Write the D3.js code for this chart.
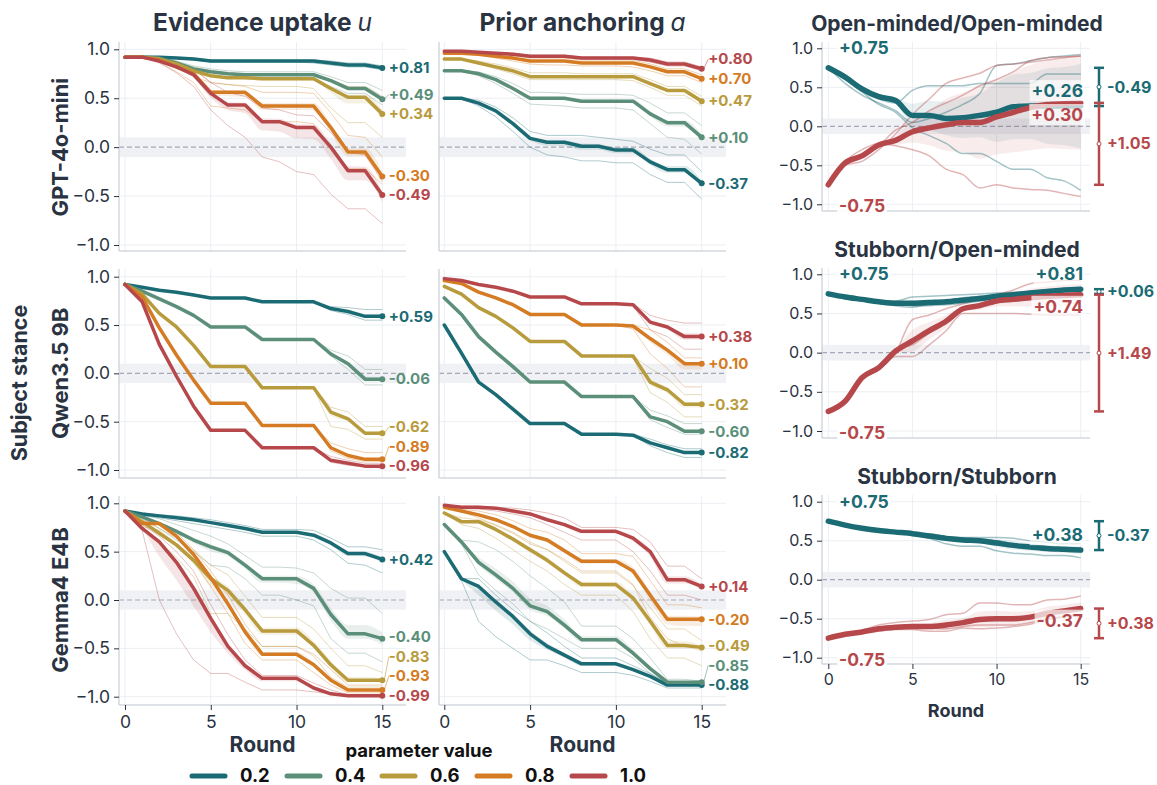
<!DOCTYPE html>
<html>
<head>
<meta charset="utf-8">
<script src="https://cdn.jsdelivr.net/npm/d3@7"></script>
<style>
  body { margin: 0; background: #fff; }
  text { font-family: Inter, "Noto Sans", sans-serif; }
</style>
</head>
<body>
<svg id="chart" width="1157" height="785"></svg>
<script>
// ---- data ----
const rounds = [0,1,2,3,4,5,6,7,8,9,10,11,12,13,14,15];
const paramValues = ["0.2", "0.4", "0.6", "0.8", "1.0"];
const yTicks = [1.0, 0.5, 0.0, -0.5, -1.0];
const xTicks = [0, 5, 10, 15];
const modelNames = ["GPT-4o-mini", "Qwen3.5 9B", "Gemma4 E4B"];
const pairTitles = ["Open-minded/Open-minded", "Stubborn/Open-minded", "Stubborn/Stubborn"];

// each panel: one row per parameter value (0.2 ... 1.0), 16 rounds
const gptUptakeMean = [
  [0.92,0.92,0.92,0.91,0.90,0.88,0.88,0.88,0.88,0.88,0.88,0.88,0.86,0.84,0.84,0.81],
  [0.92,0.92,0.91,0.86,0.80,0.77,0.75,0.74,0.74,0.74,0.74,0.74,0.68,0.60,0.60,0.49],
  [0.92,0.92,0.90,0.85,0.78,0.73,0.71,0.71,0.70,0.70,0.70,0.70,0.60,0.51,0.51,0.34],
  [0.92,0.92,0.89,0.82,0.75,0.56,0.56,0.56,0.42,0.42,0.42,0.42,0.20,-0.05,-0.05,-0.30],
  [0.92,0.92,0.88,0.82,0.74,0.55,0.43,0.43,0.26,0.26,0.20,0.20,0.00,-0.24,-0.24,-0.49]
];
const gptUptakeLo = [
  [0.92,0.92,0.92,0.91,0.89,0.87,0.87,0.87,0.87,0.87,0.87,0.86,0.84,0.82,0.82,0.79],
  [0.92,0.92,0.90,0.84,0.77,0.73,0.71,0.70,0.70,0.70,0.70,0.69,0.62,0.55,0.55,0.43],
  [0.92,0.92,0.89,0.82,0.72,0.66,0.64,0.63,0.62,0.62,0.62,0.60,0.40,0.25,0.25,0.10],
  [0.92,0.92,0.87,0.77,0.66,0.42,0.40,0.38,0.26,0.26,0.26,0.24,0.00,-0.22,-0.22,-0.38],
  [0.92,0.92,0.86,0.76,0.62,0.38,0.22,0.10,-0.10,-0.15,-0.25,-0.28,-0.48,-0.63,-0.63,-0.78]
];
const gptUptakeHi = [
  [0.92,0.92,0.92,0.92,0.91,0.89,0.89,0.89,0.89,0.89,0.89,0.89,0.88,0.86,0.86,0.83],
  [0.92,0.92,0.92,0.88,0.83,0.80,0.78,0.77,0.77,0.77,0.77,0.77,0.72,0.66,0.66,0.58],
  [0.92,0.92,0.91,0.87,0.82,0.78,0.76,0.75,0.75,0.75,0.75,0.74,0.68,0.62,0.62,0.52],
  [0.92,0.92,0.90,0.85,0.80,0.66,0.64,0.62,0.56,0.56,0.56,0.55,0.35,0.12,0.10,-0.10],
  [0.92,0.92,0.89,0.85,0.80,0.66,0.56,0.52,0.40,0.38,0.33,0.32,0.15,-0.05,-0.08,-0.35]
];

const gptAnchorMean = [
  [0.50,0.50,0.45,0.37,0.24,0.09,0.05,0.05,0.01,0.01,-0.03,-0.03,-0.15,-0.23,-0.23,-0.37],
  [0.78,0.78,0.75,0.69,0.60,0.50,0.50,0.50,0.47,0.47,0.47,0.47,0.34,0.25,0.25,0.10],
  [0.90,0.90,0.86,0.82,0.78,0.72,0.72,0.72,0.72,0.72,0.72,0.72,0.65,0.58,0.58,0.47],
  [0.96,0.96,0.95,0.93,0.91,0.88,0.88,0.88,0.86,0.86,0.86,0.86,0.82,0.77,0.77,0.70],
  [0.98,0.98,0.97,0.96,0.95,0.93,0.93,0.93,0.91,0.91,0.91,0.91,0.89,0.85,0.85,0.80]
];
const gptAnchorLo = [
  [0.50,0.50,0.42,0.31,0.16,0.00,-0.08,-0.10,-0.14,-0.14,-0.16,-0.16,-0.28,-0.36,-0.36,-0.53],
  [0.78,0.78,0.73,0.65,0.55,0.44,0.43,0.42,0.40,0.40,0.40,0.38,0.24,0.10,0.08,-0.07],
  [0.90,0.90,0.85,0.80,0.75,0.69,0.69,0.69,0.69,0.69,0.69,0.68,0.61,0.53,0.53,0.42],
  [0.96,0.96,0.94,0.91,0.88,0.85,0.84,0.84,0.83,0.83,0.83,0.82,0.78,0.73,0.73,0.66],
  [0.98,0.98,0.96,0.95,0.94,0.92,0.92,0.92,0.90,0.90,0.90,0.90,0.87,0.83,0.83,0.78]
];
const gptAnchorHi = [
  [0.50,0.50,0.48,0.41,0.30,0.16,0.12,0.12,0.12,0.10,0.08,0.06,-0.02,-0.08,-0.08,-0.25],
  [0.78,0.78,0.77,0.72,0.65,0.56,0.56,0.55,0.54,0.54,0.54,0.53,0.45,0.35,0.35,0.22],
  [0.90,0.90,0.88,0.85,0.81,0.76,0.76,0.76,0.75,0.75,0.75,0.75,0.69,0.62,0.62,0.52],
  [0.96,0.96,0.96,0.94,0.93,0.91,0.91,0.91,0.89,0.89,0.89,0.89,0.85,0.80,0.80,0.74],
  [0.98,0.98,0.97,0.97,0.96,0.94,0.94,0.94,0.92,0.92,0.92,0.92,0.91,0.87,0.87,0.82]
];

const qwenUptakeMean = [
  [0.92,0.89,0.86,0.84,0.81,0.78,0.78,0.78,0.74,0.74,0.74,0.74,0.67,0.64,0.59,0.59],
  [0.92,0.85,0.77,0.69,0.60,0.48,0.48,0.48,0.35,0.35,0.35,0.35,0.20,0.10,-0.06,-0.06],
  [0.92,0.82,0.62,0.48,0.29,0.07,0.07,0.07,-0.15,-0.15,-0.15,-0.15,-0.40,-0.47,-0.62,-0.62],
  [0.92,0.79,0.47,0.19,-0.07,-0.31,-0.31,-0.31,-0.54,-0.54,-0.54,-0.54,-0.77,-0.85,-0.89,-0.89],
  [0.92,0.74,0.30,-0.03,-0.34,-0.59,-0.59,-0.59,-0.77,-0.77,-0.77,-0.77,-0.90,-0.93,-0.96,-0.96]
];
const qwenUptakeLo = [
  [0.92,0.89,0.86,0.84,0.81,0.78,0.78,0.78,0.74,0.74,0.74,0.74,0.65,0.61,0.55,0.55],
  [0.92,0.85,0.77,0.69,0.60,0.48,0.48,0.48,0.35,0.35,0.35,0.35,0.18,0.04,-0.12,-0.12],
  [0.92,0.82,0.62,0.48,0.29,0.07,0.07,0.07,-0.15,-0.15,-0.15,-0.15,-0.55,-0.58,-0.68,-0.68],
  [0.92,0.79,0.47,0.19,-0.07,-0.31,-0.31,-0.31,-0.54,-0.54,-0.54,-0.54,-0.80,-0.88,-0.91,-0.91],
  [0.92,0.74,0.30,-0.03,-0.34,-0.59,-0.59,-0.59,-0.77,-0.77,-0.77,-0.77,-0.92,-0.95,-0.97,-0.97]
];
const qwenUptakeHi = [
  [0.92,0.89,0.86,0.84,0.81,0.78,0.78,0.78,0.74,0.74,0.74,0.74,0.69,0.68,0.66,0.66],
  [0.92,0.85,0.77,0.69,0.60,0.48,0.48,0.48,0.35,0.35,0.35,0.35,0.24,0.18,0.04,0.04],
  [0.92,0.82,0.62,0.48,0.29,0.07,0.07,0.07,-0.15,-0.15,-0.15,-0.15,-0.35,-0.40,-0.55,-0.55],
  [0.92,0.79,0.47,0.19,-0.07,-0.31,-0.31,-0.31,-0.54,-0.54,-0.54,-0.54,-0.72,-0.78,-0.82,-0.82],
  [0.92,0.74,0.30,-0.03,-0.34,-0.59,-0.59,-0.59,-0.77,-0.77,-0.77,-0.77,-0.86,-0.90,-0.93,-0.93]
];

const qwenAnchorMean = [
  [0.50,0.21,-0.09,-0.22,-0.37,-0.52,-0.52,-0.52,-0.63,-0.63,-0.63,-0.64,-0.72,-0.77,-0.82,-0.82],
  [0.78,0.61,0.38,0.22,0.07,-0.09,-0.09,-0.09,-0.24,-0.24,-0.24,-0.24,-0.45,-0.50,-0.60,-0.60],
  [0.90,0.82,0.68,0.59,0.47,0.33,0.33,0.33,0.18,0.18,0.18,0.18,-0.09,-0.17,-0.32,-0.32],
  [0.96,0.93,0.84,0.78,0.71,0.61,0.61,0.61,0.50,0.50,0.50,0.49,0.36,0.24,0.10,0.10],
  [0.98,0.96,0.92,0.89,0.85,0.79,0.79,0.79,0.72,0.72,0.72,0.71,0.53,0.48,0.38,0.38]
];
const qwenAnchorLo = [
  [0.50,0.21,-0.09,-0.22,-0.37,-0.52,-0.52,-0.52,-0.63,-0.63,-0.63,-0.64,-0.75,-0.82,-0.87,-0.87],
  [0.78,0.61,0.38,0.22,0.07,-0.09,-0.09,-0.09,-0.24,-0.24,-0.24,-0.25,-0.48,-0.56,-0.63,-0.63],
  [0.90,0.82,0.68,0.59,0.47,0.33,0.33,0.33,0.18,0.18,0.18,0.16,-0.20,-0.30,-0.45,-0.45],
  [0.96,0.93,0.84,0.78,0.71,0.61,0.61,0.61,0.50,0.50,0.50,0.46,0.20,0.05,-0.14,-0.14],
  [0.98,0.96,0.92,0.89,0.85,0.79,0.79,0.79,0.72,0.72,0.72,0.70,0.45,0.38,0.25,0.25]
];
const qwenAnchorHi = [
  [0.50,0.21,-0.09,-0.22,-0.37,-0.52,-0.52,-0.52,-0.63,-0.63,-0.63,-0.63,-0.68,-0.74,-0.78,-0.78],
  [0.78,0.61,0.38,0.22,0.07,-0.09,-0.09,-0.09,-0.24,-0.24,-0.24,-0.24,-0.38,-0.44,-0.52,-0.52],
  [0.90,0.82,0.68,0.59,0.47,0.33,0.33,0.33,0.18,0.18,0.18,0.18,0.05,-0.05,-0.22,-0.22],
  [0.96,0.93,0.84,0.78,0.71,0.61,0.61,0.61,0.50,0.50,0.50,0.50,0.45,0.32,0.16,0.16],
  [0.98,0.96,0.92,0.89,0.85,0.79,0.79,0.79,0.72,0.72,0.72,0.72,0.60,0.55,0.52,0.52]
];

const gemmaUptakeMean = [
  [0.92,0.89,0.87,0.85,0.83,0.80,0.77,0.74,0.70,0.70,0.70,0.67,0.59,0.48,0.48,0.42],
  [0.92,0.86,0.79,0.71,0.62,0.55,0.49,0.36,0.22,0.22,0.22,0.12,-0.15,-0.35,-0.35,-0.40],
  [0.92,0.81,0.69,0.57,0.41,0.22,0.10,-0.10,-0.32,-0.32,-0.32,-0.47,-0.67,-0.83,-0.83,-0.83],
  [0.92,0.79,0.79,0.66,0.47,0.23,-0.04,-0.33,-0.56,-0.56,-0.56,-0.67,-0.83,-0.93,-0.93,-0.93],
  [0.92,0.74,0.60,0.39,0.12,-0.19,-0.48,-0.68,-0.81,-0.81,-0.81,-0.91,-0.97,-0.99,-0.99,-0.99]
];
const gemmaUptakeLo = [
  [0.92,0.88,0.85,0.82,0.79,0.76,0.73,0.70,0.66,0.66,0.66,0.62,0.52,0.38,0.36,0.28],
  [0.92,0.84,0.74,0.62,0.50,0.36,0.34,0.22,0.05,0.05,0.00,-0.06,-0.40,-0.55,-0.55,-0.64],
  [0.92,0.76,0.60,0.44,0.24,-0.14,-0.14,-0.30,-0.48,-0.48,-0.48,-0.58,-0.80,-0.90,-0.90,-0.90],
  [0.92,0.76,0.72,0.58,0.40,0.14,-0.14,-0.45,-0.62,-0.62,-0.62,-0.75,-0.88,-0.96,-0.96,-0.96],
  [0.92,0.72,0.00,-0.35,-0.62,-0.76,-0.76,-0.85,-0.93,-0.93,-0.93,-0.95,-0.97,-0.98,-0.98,-0.99]
];
const gemmaUptakeHi = [
  [0.92,0.90,0.88,0.87,0.85,0.83,0.80,0.77,0.73,0.73,0.73,0.72,0.64,0.55,0.55,0.52],
  [0.92,0.88,0.84,0.78,0.72,0.66,0.58,0.46,0.34,0.34,0.33,0.28,0.12,0.02,0.02,-0.14],
  [0.92,0.84,0.74,0.64,0.52,0.36,0.26,0.04,-0.18,-0.18,-0.18,-0.30,-0.50,-0.68,-0.68,-0.75],
  [0.92,0.82,0.80,0.70,0.52,0.30,0.05,-0.25,-0.48,-0.48,-0.48,-0.56,-0.72,-0.88,-0.88,-0.88],
  [0.92,0.78,0.66,0.50,0.30,-0.05,-0.36,-0.62,-0.78,-0.78,-0.78,-0.86,-0.93,-0.98,-0.98,-0.98]
];

const gemmaAnchorMean = [
  [0.50,0.22,0.14,-0.02,-0.17,-0.35,-0.48,-0.57,-0.66,-0.66,-0.66,-0.72,-0.79,-0.88,-0.88,-0.88],
  [0.78,0.60,0.39,0.26,0.12,-0.06,-0.12,-0.26,-0.41,-0.41,-0.41,-0.55,-0.71,-0.85,-0.85,-0.85],
  [0.90,0.81,0.81,0.73,0.63,0.52,0.41,0.28,0.16,0.16,0.16,0.02,-0.22,-0.47,-0.47,-0.49],
  [0.96,0.92,0.88,0.83,0.76,0.67,0.62,0.51,0.40,0.40,0.40,0.30,0.05,-0.20,-0.20,-0.20],
  [0.98,0.96,0.96,0.95,0.92,0.89,0.83,0.78,0.71,0.71,0.71,0.64,0.50,0.21,0.21,0.14]
];
const gemmaAnchorLo = [
  [0.50,0.20,-0.22,-0.38,-0.50,-0.62,-0.62,-0.68,-0.75,-0.75,-0.75,-0.78,-0.84,-0.91,-0.91,-0.91],
  [0.78,0.58,0.26,0.10,-0.04,-0.22,-0.30,-0.40,-0.50,-0.50,-0.50,-0.60,-0.76,-0.87,-0.87,-0.87],
  [0.90,0.78,0.74,0.64,0.52,0.40,0.30,0.16,0.05,0.05,0.05,-0.12,-0.40,-0.60,-0.60,-0.68],
  [0.96,0.91,0.85,0.77,0.69,0.58,0.52,0.42,0.30,0.30,0.30,0.16,-0.18,-0.40,-0.48,-0.48],
  [0.98,0.95,0.94,0.92,0.89,0.85,0.78,0.70,0.62,0.62,0.62,0.50,0.30,0.05,0.05,0.00]
];
const gemmaAnchorHi = [
  [0.50,0.22,0.22,0.05,-0.10,-0.22,-0.34,-0.48,-0.60,-0.60,-0.60,-0.68,-0.76,-0.86,-0.86,-0.86],
  [0.78,0.62,0.60,0.52,0.40,0.25,0.12,-0.02,-0.27,-0.27,-0.27,-0.40,-0.60,-0.82,-0.82,-0.84],
  [0.90,0.85,0.83,0.78,0.70,0.60,0.52,0.40,0.28,0.28,0.28,0.15,-0.08,-0.30,-0.30,-0.42],
  [0.96,0.94,0.92,0.88,0.82,0.74,0.70,0.62,0.48,0.48,0.48,0.45,0.20,-0.05,-0.05,-0.08],
  [0.98,0.97,0.97,0.96,0.95,0.93,0.90,0.85,0.75,0.75,0.75,0.73,0.60,0.35,0.35,0.22]
];

// right column: two agents (teal = starts +0.75, red = starts -0.75)
const ooTealMean = [0.75,0.63,0.48,0.38,0.33,0.14,0.14,0.10,0.11,0.14,0.18,0.25,0.26,0.26,0.26,0.26];
const ooTealRuns = [
  [0.75,0.66,0.45,0.35,0.30,0.46,0.52,0.52,0.52,0.55,0.55,0.55,0.55,0.67,0.67,0.67],
  [0.75,0.55,0.40,0.30,0.20,0.05,0.10,0.18,0.28,0.42,0.78,0.80,0.84,0.88,0.90,0.92],
  [0.75,0.60,0.44,0.28,0.18,-0.02,-0.12,-0.22,-0.35,-0.35,-0.45,-0.55,-0.55,-0.66,-0.70,-0.82]
];
const ooRedMean = [-0.75,-0.47,-0.38,-0.24,-0.18,-0.07,-0.02,0.02,0.05,0.05,0.12,0.18,0.24,0.28,0.29,0.30];
const ooRedRuns = [
  [-0.75,-0.50,-0.45,-0.30,-0.10,0.15,0.35,0.55,0.62,0.68,0.78,0.80,0.82,0.85,0.88,0.90],
  [-0.75,-0.50,-0.40,-0.25,-0.05,0.05,0.20,0.30,0.40,0.52,0.60,0.70,0.84,0.88,0.89,0.90],
  [-0.75,-0.45,-0.30,-0.22,-0.25,-0.30,-0.38,-0.55,-0.62,-0.79,-0.75,-0.79,-0.81,-0.82,-0.86,-0.90]
];
const soTealMean = [0.75,0.71,0.68,0.65,0.63,0.63,0.64,0.65,0.67,0.69,0.72,0.74,0.76,0.78,0.80,0.81];
const soTealRuns = [
  [0.75,0.71,0.67,0.64,0.60,0.58,0.62,0.66,0.70,0.72,0.74,0.76,0.78,0.79,0.80,0.81],
  [0.75,0.71,0.68,0.66,0.66,0.71,0.72,0.73,0.74,0.75,0.76,0.77,0.78,0.80,0.81,0.82],
  [0.75,0.71,0.68,0.65,0.62,0.60,0.60,0.61,0.63,0.66,0.70,0.72,0.74,0.76,0.78,0.80]
];
const soRedMean = [-0.75,-0.62,-0.32,-0.19,0.02,0.15,0.28,0.40,0.56,0.60,0.66,0.68,0.70,0.72,0.73,0.74];
const soRedRuns = [
  [-0.75,-0.62,-0.33,-0.22,0.00,0.42,0.48,0.56,0.62,0.68,0.74,0.80,0.88,0.90,0.92,0.92],
  [-0.75,-0.62,-0.32,-0.22,-0.05,-0.05,0.10,0.28,0.50,0.50,0.50,0.50,0.49,0.48,0.48,0.48],
  [-0.75,-0.60,-0.32,-0.20,0.05,0.10,0.25,0.38,0.57,0.62,0.68,0.70,0.74,0.78,0.80,0.82]
];
const ssTealMean = [0.75,0.70,0.66,0.63,0.61,0.59,0.56,0.53,0.51,0.50,0.47,0.44,0.42,0.40,0.39,0.38];
const ssTealRuns = [
  [0.75,0.70,0.66,0.63,0.61,0.59,0.59,0.55,0.54,0.54,0.54,0.53,0.50,0.48,0.46,0.46],
  [0.75,0.70,0.66,0.63,0.61,0.59,0.53,0.46,0.43,0.43,0.37,0.34,0.33,0.31,0.31,0.28],
  [0.75,0.70,0.66,0.63,0.61,0.59,0.57,0.55,0.53,0.52,0.50,0.46,0.42,0.40,0.40,0.40]
];
const ssRedMean = [-0.75,-0.70,-0.67,-0.63,-0.61,-0.60,-0.60,-0.58,-0.55,-0.51,-0.50,-0.50,-0.48,-0.43,-0.40,-0.37];
const ssRedRuns = [
  [-0.75,-0.70,-0.65,-0.58,-0.55,-0.53,-0.51,-0.45,-0.43,-0.30,-0.30,-0.32,-0.32,-0.26,-0.25,-0.21],
  [-0.75,-0.70,-0.67,-0.64,-0.63,-0.62,-0.62,-0.63,-0.60,-0.58,-0.58,-0.58,-0.55,-0.50,-0.48,-0.45],
  [-0.75,-0.70,-0.68,-0.66,-0.64,-0.64,-0.66,-0.66,-0.62,-0.63,-0.62,-0.60,-0.57,-0.52,-0.47,-0.45]
];

// ---- styles / layout ----
const colors = ["#1b6b74", "#5b8f7a", "#b89b3d", "#d47b23", "#b6484b"];
const teal = colors[0], red = colors[4];
const ink = "#2a3342";
const gridColor = "#eceef2";
const spineColor = "#d3d7de";

const svg = d3.select("#chart");

const leftCols = [
  {x0: 119, x1: 406, r0: 125, r15: 382.3},
  {x0: 439, x1: 726, r0: 444.3, r15: 701.7}
];
const leftRows = [
  {y0: 42, y1: 251, top: 49.3, bot: 245},
  {y0: 269, y1: 478, top: 276.7, bot: 470},
  {y0: 496, y1: 705, top: 503.3, bot: 696.7}
];
const rightCol = {x0: 822, x1: 1090, r0: 828.3, r15: 1080.7};
const rightRows = [
  {y0: 42, y1: 211, top: 48.3, bot: 204.3},
  {y0: 268, y1: 438, top: 274.3, bot: 431},
  {y0: 495, y1: 664, top: 501.7, bot: 657.7}
];

const fmtSigned = v => (v >= 0 ? "+" : "-") + Math.abs(v).toFixed(2);

// draws grid, zero band, spines and axes; returns scales + group
function drawFrame(col, row, opts) {
  const x = d3.scaleLinear().domain([0, 15]).range([col.r0, col.r15]);
  const y = d3.scaleLinear().domain([-1, 1]).range([row.bot, row.top]);
  const g = svg.append("g");

  g.selectAll("line.vgrid").data(xTicks).join("line").attr("class", "vgrid")
    .attr("x1", d => x(d)).attr("x2", d => x(d))
    .attr("y1", row.y0).attr("y2", row.y1)
    .attr("stroke", gridColor).attr("stroke-width", 1);
  g.selectAll("line.hgrid").data(yTicks).join("line").attr("class", "hgrid")
    .attr("x1", col.x0).attr("x2", col.x1)
    .attr("y1", d => y(d)).attr("y2", d => y(d))
    .attr("stroke", gridColor).attr("stroke-width", 1);

  // neutral band + dashed zero line
  g.append("rect")
    .attr("x", col.x0).attr("width", col.x1 - col.x0)
    .attr("y", y(0.1)).attr("height", y(-0.1) - y(0.1))
    .attr("fill", "#f0f1f4");
  g.append("line")
    .attr("x1", col.x0).attr("x2", col.x1)
    .attr("y1", y(0)).attr("y2", y(0))
    .attr("stroke", "#a3a9b6").attr("stroke-width", 1.2)
    .attr("stroke-dasharray", "5,3");

  // spines
  g.append("line").attr("x1", col.x0).attr("x2", col.x0).attr("y1", row.y0).attr("y2", row.y1)
    .attr("stroke", spineColor).attr("stroke-width", 1.5);
  g.append("line").attr("x1", col.x0).attr("x2", col.x1).attr("y1", row.y1).attr("y2", row.y1)
    .attr("stroke", spineColor).attr("stroke-width", 1.5);

  if (opts.yLabels) {
    const ax = g.append("g").attr("transform", "translate(" + col.x0 + ",0)")
      .call(d3.axisLeft(y).tickValues(yTicks).tickSize(5).tickPadding(4).tickFormat(d3.format(".1f")));
    ax.select(".domain").remove();
    ax.selectAll("line").attr("stroke", ink);
    ax.selectAll("text").attr("fill", ink).style("font-size", opts.tickSize + "px")
      .style("font-family", "Inter, sans-serif");
  }
  if (opts.xLabels) {
    const ax = g.append("g").attr("transform", "translate(0," + row.y1 + ")")
      .call(d3.axisBottom(x).tickValues(xTicks).tickSize(5).tickPadding(opts.xPad));
    ax.select(".domain").remove();
    ax.selectAll("line").attr("stroke", ink);
    ax.selectAll("text").attr("fill", ink).style("font-size", opts.tickSize + "px")
      .style("font-family", "Inter, sans-serif");
    g.append("text")
      .attr("x", (col.x0 + col.x1) / 2).attr("y", opts.roundY)
      .attr("text-anchor", "middle").attr("fill", ink)
      .style("font-size", opts.roundSize + "px").style("font-weight", 700)
      .text("Round");
  }
  return {g, x, y};
}

function drawSweepPanel(ci, ri, means, los, his) {
  const col = leftCols[ci], row = leftRows[ri];
  const {g, x, y} = drawFrame(col, row, {
    yLabels: ci === 0, xLabels: ri === 2, tickSize: 17.5, xPad: 6, roundY: 752, roundSize: 21
  });
  const line = d3.line().x((d, i) => x(rounds[i])).y(d => y(d));
  const area = d3.area().x((d, i) => x(rounds[i])).y0(d => y(d[0])).y1(d => y(d[1])).curve(d3.curveMonotoneX);

  // narrow band around the mean, a quarter of the way toward the outer runs
  means.forEach((m, k) => {
    const band = m.map((v, i) => [v + (los[k][i] - v) / 4, v + (his[k][i] - v) / 4]);
    g.append("path").attr("d", area(band)).attr("fill", colors[k]).attr("opacity", 0.14);
  });
  means.forEach((m, k) => {
    [los[k], his[k]].forEach(run => {
      g.append("path").attr("d", line(run)).attr("fill", "none")
        .attr("stroke", colors[k]).attr("stroke-width", 1).attr("opacity", 0.35);
    });
  });
  means.forEach((m, k) => {
    g.append("path").attr("d", line(m)).attr("fill", "none")
      .attr("stroke", colors[k]).attr("stroke-width", 3.5)
      .attr("stroke-linejoin", "round").attr("stroke-linecap", "round");
    g.append("circle").attr("cx", x(15)).attr("cy", y(m[15])).attr("r", 3).attr("fill", colors[k]);
  });

  // end labels with simple collision relaxation
  const items = means.map((m, k) => ({v: m[15], y0: y(m[15]), color: colors[k]}));
  items.sort((a, b) => a.y0 - b.y0);
  items.forEach(d => d.y = d.y0);
  const sp = 19.5;
  for (let i = items.length - 2; i >= 0; i--) items[i].y = Math.min(items[i].y, items[i + 1].y - sp);
  for (let i = 1; i < items.length; i++) items[i].y = Math.max(items[i].y, items[i - 1].y + sp);
  const lx = x(15) + 6.5;
  items.forEach(d => {
    if (Math.abs(d.y - d.y0) > 4) {
      g.append("line").attr("x1", x(15) + 2).attr("y1", d.y0).attr("x2", lx).attr("y2", d.y)
        .attr("stroke", d.color).attr("stroke-width", 0.8).attr("opacity", 0.7);
    }
    g.append("text").attr("x", lx).attr("y", d.y).attr("dy", "0.35em")
      .attr("fill", d.color).style("font-size", "15px").style("font-weight", 700)
      .text(fmtSigned(d.v));
  });
}

function labelWithBg(g, x, y, txt, color, anchor, size, bgOpacity) {
  const t = g.append("text").attr("x", x).attr("y", y).attr("dy", "0.35em")
    .attr("text-anchor", anchor).attr("fill", color)
    .style("font-size", size + "px").style("font-weight", 700).text(txt);
  const b = t.node().getBBox();
  g.insert("rect", () => t.node())
    .attr("x", b.x - 2).attr("y", b.y).attr("width", b.width + 4).attr("height", b.height)
    .attr("fill", "#fff").attr("opacity", bgOpacity);
}

function drawPairPanel(ri, tealMean, tealRuns, redMean, redRuns) {
  const row = rightRows[ri];
  const {g, x, y} = drawFrame(rightCol, row, {
    yLabels: true, xLabels: ri === 2, tickSize: 16, xPad: 5, roundY: 717, roundSize: 18
  });
  const line = d3.line().x((d, i) => x(rounds[i])).y(d => y(d)).curve(d3.curveMonotoneX);
  const area = d3.area().x((d, i) => x(rounds[i])).y0(d => y(d[0])).y1(d => y(d[1])).curve(d3.curveMonotoneX);

  const series = [
    {mean: tealMean, runs: tealRuns, color: teal},
    {mean: redMean, runs: redRuns, color: red}
  ];
  series.forEach(s => {
    const band = s.mean.map((m, i) => {
      const vals = s.runs.map(r => r[i]);
      const se = d3.deviation(vals) / Math.sqrt(vals.length);
      return [m - se, m + se];
    });
    g.append("path").attr("d", area(band)).attr("fill", s.color).attr("opacity", 0.1);
  });
  series.forEach(s => {
    s.runs.forEach(run => {
      g.append("path").attr("d", line(run)).attr("fill", "none")
        .attr("stroke", s.color).attr("stroke-width", 1.5).attr("opacity", 0.4);
    });
  });
  series.forEach(s => {
    g.append("path").attr("d", line(s.mean)).attr("fill", "none")
      .attr("stroke", s.color).attr("stroke-width", 5.5)
      .attr("stroke-linejoin", "round").attr("stroke-linecap", "round");
  });

  // start labels
  labelWithBg(g, 839, y(1.0), fmtSigned(tealMean[0]), teal, "start", 17.5, 0.9);
  labelWithBg(g, 839, y(-1.0) + 2, fmtSigned(redMean[0]), red, "start", 17.5, 0.9);
  // end labels
  labelWithBg(g, 1083, y(tealMean[15]) - 15, fmtSigned(tealMean[15]), teal, "end", 17.5, 0.7);
  labelWithBg(g, 1083, y(redMean[15]) + 12, fmtSigned(redMean[15]), red, "end", 17.5, 0.7);

  // change bars
  const bx = 1099;
  series.forEach(s => {
    const a = s.mean[0], b = s.mean[15];
    const bar = g.append("g");
    bar.append("line").attr("x1", bx).attr("x2", bx).attr("y1", y(a)).attr("y2", y(b))
      .attr("stroke", s.color).attr("stroke-width", 2.5);
    [a, b].forEach(v => bar.append("line").attr("x1", bx - 5).attr("x2", bx + 5)
      .attr("y1", y(v)).attr("y2", y(v)).attr("stroke", s.color).attr("stroke-width", 2.5));
    bar.append("circle").attr("cx", bx).attr("cy", y((a + b) / 2)).attr("r", 2)
      .attr("fill", "#fff").attr("stroke", s.color).attr("stroke-width", 1);
    bar.append("text").attr("x", bx + 8).attr("y", y((a + b) / 2)).attr("dy", "0.35em")
      .attr("fill", s.color).style("font-size", "16px").style("font-weight", 700)
      .text(fmtSigned(b - a));
  });

  svg.append("text").attr("x", (rightCol.x0 + rightCol.x1) / 2 + 1).attr("y", row.y0 - 11)
    .attr("text-anchor", "middle").attr("fill", ink)
    .style("font-size", "21px").style("font-weight", 700)
    .text(pairTitles[ri]);
}

// ---- panels ----
drawSweepPanel(0, 0, gptUptakeMean, gptUptakeLo, gptUptakeHi);
drawSweepPanel(1, 0, gptAnchorMean, gptAnchorLo, gptAnchorHi);
drawSweepPanel(0, 1, qwenUptakeMean, qwenUptakeLo, qwenUptakeHi);
drawSweepPanel(1, 1, qwenAnchorMean, qwenAnchorLo, qwenAnchorHi);
drawSweepPanel(0, 2, gemmaUptakeMean, gemmaUptakeLo, gemmaUptakeHi);
drawSweepPanel(1, 2, gemmaAnchorMean, gemmaAnchorLo, gemmaAnchorHi);

drawPairPanel(0, ooTealMean, ooTealRuns, ooRedMean, ooRedRuns);
drawPairPanel(1, soTealMean, soTealRuns, soRedMean, soRedRuns);
drawPairPanel(2, ssTealMean, ssTealRuns, ssRedMean, ssRedRuns);

// column titles
[["Evidence uptake ", "u"], ["Prior anchoring ", "a"]].forEach((t, i) => {
  const c = leftCols[i];
  const txt = svg.append("text").attr("x", (c.x0 + c.x1) / 2).attr("y", 31)
    .attr("text-anchor", "middle").attr("fill", ink).style("font-size", "24.5px");
  txt.append("tspan").style("font-weight", 700).text(t[0]);
  txt.append("tspan").style("font-style", "italic").style("font-weight", 400).text(t[1]);
});

// row labels
modelNames.forEach((name, i) => {
  const r = leftRows[i];
  const cy = (r.top + r.bot) / 2;
  svg.append("text").attr("transform", "translate(60," + cy + ") rotate(-90)")
    .attr("text-anchor", "middle").attr("dy", "0.35em").attr("fill", ink)
    .style("font-size", "22px").style("font-weight", 700).text(name);
});
svg.append("text").attr("transform", "translate(19,383) rotate(-90)")
  .attr("text-anchor", "middle").attr("dy", "0.35em").attr("fill", ink)
  .style("font-size", "21.5px").style("font-weight", 700).text("Subject stance");

// legend
svg.append("text").attr("x", 419).attr("y", 757).attr("text-anchor", "middle")
  .attr("fill", "#111").style("font-size", "18.5px").style("font-weight", 700)
  .text("parameter value");
const legend = svg.append("g");
paramValues.forEach((p, i) => {
  const lx = 192 + i * 95;
  legend.append("line").attr("x1", lx).attr("x2", lx + 33).attr("y1", 776).attr("y2", 776)
    .attr("stroke", colors[i]).attr("stroke-width", 5).attr("stroke-linecap", "round");
  legend.append("text").attr("x", lx + 48).attr("y", 782)
    .attr("fill", "#111").style("font-size", "18.5px").style("font-weight", 700).text(p);
});
</script>
</body>
</html>
